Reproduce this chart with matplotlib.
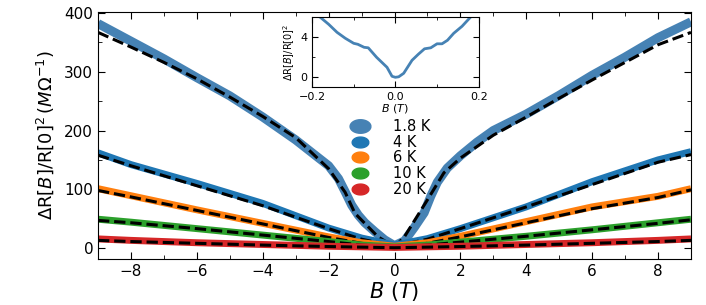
import numpy as np
import matplotlib as mpl
mpl.use('Agg')
import matplotlib.pyplot as plt
from matplotlib.lines import Line2D
from matplotlib.path import Path

# ---- data ----
# 1.8 K : measured and fit
B_18 = [-9, -8, -7, -6, -5, -4, -3, -2.5, -2.0, -1.7, -1.5, -1.3, -1.1, -0.9, -0.6, -0.3, 0,
        0.3, 0.6, 0.9, 1.1, 1.3, 1.6, 2.0, 2.5, 3.0, 4.0, 5.0, 6.0, 7.0, 8.0, 9.0]
R_18 = [382, 352, 322, 290, 259, 223, 184, 162, 140, 118, 96, 73, 56, 43, 28, 14, 4,
        12, 35, 60, 88, 112, 136, 157, 180, 200, 228, 260, 294, 325, 358, 385]
Bfit_18 = [-9, -8, -7, -6, -5, -4, -3, -2, -1.5, -1.2, -0.5, 0,
           0.3, 1.0, 1.5, 2.0, 3.0, 4.0, 5.0, 6.0, 7.0, 8.0, 9.0]
Rfit_18 = [367, 342, 316, 288, 257, 224, 188, 135, 95, 59, 19, 2,
           19, 82, 128, 153, 192, 223, 255, 286, 316, 346, 367]

# higher temperatures share one field grid
B = [-9, -8, -6, -4, -2, -1, 0, 1, 2, 4, 6, 8, 9]
R_4 = [162, 142, 110, 76, 34, 17, 5, 16, 33, 70, 113, 150, 164]
Rfit_4 = [158, 140, 106, 72, 33, 15, 3, 15, 33, 70, 108, 146, 159]
R_6 = [101, 89, 65, 42, 19, 9, 3, 9, 20, 45, 70, 88, 101]
Rfit_6 = [98, 87, 64, 41, 18, 8, 2, 8, 19, 43, 67, 86, 99]
R_10 = [49, 44, 33, 22, 11, 5, 2, 5, 10, 20, 31, 43, 49]
Rfit_10 = [47, 43, 33, 22, 11, 5, 1.5, 5, 10, 20, 31, 42, 48]
R_20 = [15.5, 13, 9, 6, 3, 2, 1, 2, 3, 6, 9, 13, 15.5]
Rfit_20 = [13, 11, 8, 5, 2.5, 1.5, 0.5, 1.5, 2.5, 5, 8, 11, 13]

labels = ['1.8 K', '4 K', '6 K', '10 K', '20 K']
colors = ['#4682b4', '#1f77b4', '#ff7f0e', '#2ca02c', '#d62728']

# inset: low-field 1.8 K
B_in = [-0.2, -0.18, -0.16, -0.14, -0.12, -0.1, -0.09, -0.075, -0.065, -0.045,
        -0.02, -0.008, 0.0, 0.008, 0.02, 0.04, 0.055, 0.07, 0.085, 0.1, 0.112,
        0.125, 0.14, 0.16, 0.18]
R_in = [6.4, 6.0, 5.3, 4.5, 3.9, 3.4, 3.3, 3.0, 2.95, 2.0,
        1.0, 0.1, 0.0, 0.05, 0.4, 1.7, 2.3, 2.85, 2.95, 3.35, 3.35,
        3.7, 4.4, 5.1, 6.0]

plt.rcParams['font.family'] = 'DejaVu Sans'
plt.rcParams['mathtext.fontset'] = 'dejavusans'

fig = plt.figure(figsize=(7.06, 3.05), dpi=100)
ax = fig.add_axes([98/706, 1-259/305, 593/706, 247/305])

ax.plot(B_18, R_18, color=colors[0], lw=6.5, solid_capstyle='butt')
ax.plot(Bfit_18, Rfit_18, 'k--', lw=2.2)
for R, Rf, c in [(R_4, Rfit_4, colors[1]), (R_6, Rfit_6, colors[2]),
                 (R_10, Rfit_10, colors[3]), (R_20, Rfit_20, colors[4])]:
    ax.plot(B, R, color=c, lw=5, solid_capstyle='butt')
    ax.plot(B, Rf, 'k--', lw=2.2)

ax.set_xlim(-9, 9)
ax.set_ylim(-18.7, 401.7)
ax.set_xticks([-8, -6, -4, -2, 0, 2, 4, 6, 8])
ax.set_xticks(np.arange(-9, 10, 1), minor=True)
ax.set_yticks([0, 100, 200, 300, 400])
ax.set_yticks([50, 150, 250, 350], minor=True)
ax.tick_params(which='both', direction='in', top=True, right=True, labelsize=11)
ax.tick_params(which='major', length=5)
ax.tick_params(which='minor', length=3)
ax.set_xlabel(r'$B\ (T)$', fontsize=15, labelpad=0.5)
ax.set_ylabel(r'$\Delta\mathrm{R}[B]/\mathrm{R}[0]^2\,(M\Omega^{-1})$', fontsize=13, labelpad=6)

# elliptical legend markers
t = np.linspace(0, 2*np.pi, 40)
ell = Path(np.column_stack([np.cos(t), 0.65*np.sin(t)]))
handles = [Line2D([], [], ls='none', marker=ell, ms=15, color=colors[0])]
for c in colors[1:]:
    handles.append(Line2D([], [], ls='none', marker=ell, ms=12, color=c))
ax.legend(handles, labels, loc='upper left', bbox_to_anchor=(0.395, 0.62),
          frameon=False, fontsize=10.5, labelspacing=0.05, handletextpad=1.3)

# inset
axi = fig.add_axes([312/706, 1-87.3/305, 166.7/706, 70/305])
axi.plot(B_in, R_in, color=colors[0], lw=2)
axi.set_xlim(-0.2, 0.2)
axi.set_ylim(-1, 6)
axi.set_xticks([-0.2, 0.0, 0.2])
axi.set_xticks([-0.1, 0.1], minor=True)
axi.set_yticks([0, 4])
axi.set_yticks([2, 6], minor=True)
axi.tick_params(which='both', direction='in', top=True, right=True, labelsize=8)
axi.tick_params(which='major', length=4)
axi.tick_params(which='minor', length=2.5)
axi.set_xlabel(r'$B\ (T)$', fontsize=8, labelpad=0)
axi.set_ylabel(r'$\Delta\mathrm{R}[B]/\mathrm{R}[0]^2$', fontsize=7, labelpad=2)

fig.savefig('out.png', dpi=100)
